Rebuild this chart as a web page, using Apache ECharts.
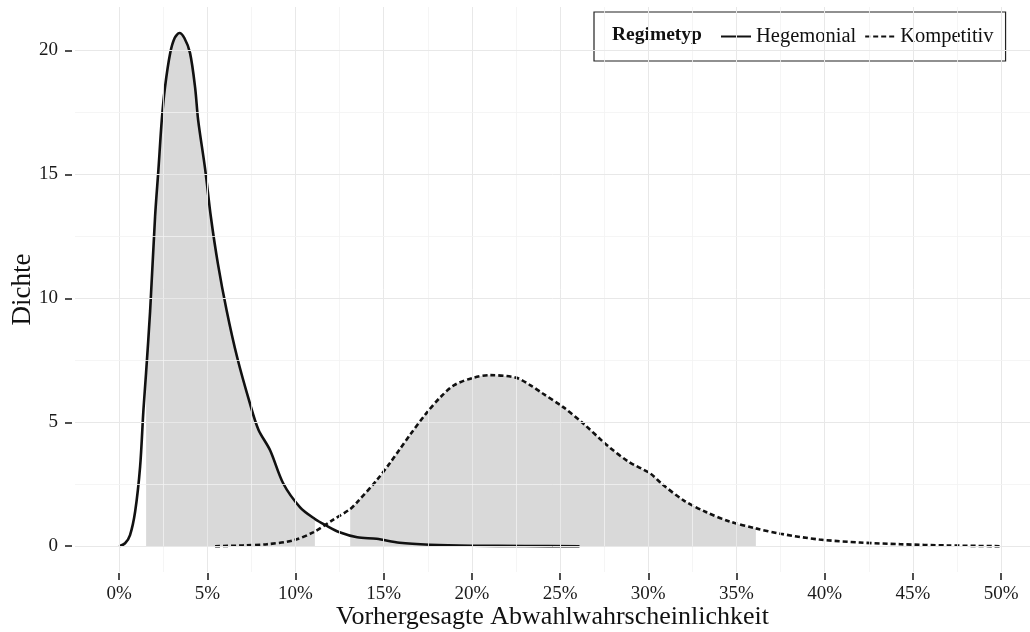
<!DOCTYPE html>
<html>
<head>
<meta charset="utf-8">
<script src="https://cdn.jsdelivr.net/npm/echarts@6/dist/echarts.min.js"></script>
<style>html,body{margin:0;padding:0;background:#fff;}#c{width:1030px;height:632px;}</style>
</head>
<body>
<div id="c"></div>
<script>
// ---- data ----
const xTicks = [0, 5, 10, 15, 20, 25, 30, 35, 40, 45, 50];
const yTicks = [0, 5, 10, 15, 20];
const xMinor = [2.5, 7.5, 12.5, 17.5, 22.5, 27.5, 32.5, 37.5, 42.5, 47.5];
const yMinor = [2.5, 7.5, 12.5, 17.5];

const hegX = [0, 0.34, 0.62, 0.91, 1.19, 1.38, 1.53, 1.76, 2.04, 2.23, 2.42, 2.6, 2.9, 3.15, 3.42, 3.7, 4.02, 4.31, 4.48, 4.88, 5.2, 5.6, 6.1, 6.7, 7.4, 7.9, 8.56, 9.3, 10.26, 11.1, 11.7, 12.5, 13.5, 14.6, 15.9, 17.6, 20, 23, 26.1];
const hegY = [0, 0.12, 0.45, 1.4, 3.2, 5.5, 7.0, 9.5, 13.3, 15.2, 17.2, 18.5, 19.9, 20.5, 20.7, 20.5, 19.9, 18.5, 17.2, 15.2, 13.3, 11.4, 9.5, 7.6, 5.8, 4.7, 3.87, 2.54, 1.57, 1.1, 0.85, 0.56, 0.36, 0.3, 0.14, 0.06, 0.02, 0.01, 0];

const kompX = [5.44, 7.0, 8.4, 9.9, 11.0, 12.1, 13.1, 13.5, 14.6, 15.4, 15.9, 16.5, 17.4, 18.2, 19.0, 20.1, 21.0, 22.5, 23.3, 24.0, 25.2, 26.3, 27.7, 28.9, 30.1, 30.8, 32.0, 33.3, 34.6, 36.1, 37.5, 39.7, 42.0, 44.3, 47.0, 50.0];
const kompY = [0, 0.03, 0.08, 0.24, 0.56, 1.05, 1.5, 1.78, 2.66, 3.4, 3.9, 4.5, 5.35, 6.0, 6.5, 6.8, 6.9, 6.8, 6.5, 6.17, 5.6, 4.96, 4.05, 3.4, 2.94, 2.5, 1.85, 1.37, 1.0, 0.72, 0.5, 0.27, 0.15, 0.08, 0.03, 0];

const hegShade = [1.53, 11.1];
const kompShade = [13.1, 36.1];

const seriesNames = ['Hegemonial', 'Kompetitiv'];
const legendTitle = 'Regimetyp';
const xTitle = 'Vorhergesagte Abwahlwahrscheinlichkeit';
const yTitle = 'Dichte';

// ---- build ----
const pairs = (xs, ys) => xs.map((x, i) => [x, ys[i]]);
const within = (pts, r) => pts.filter(p => p[0] >= r[0] && p[0] <= r[1]);
const hegPts = pairs(hegX, hegY);
const kompPts = pairs(kompX, kompY);

const FONT = 'Liberation Serif';
const majorStyle = {color: '#e8e8e8', width: 1, type: 'solid'};
const minorStyle = {color: '#f3f3f3', width: 0.8, type: 'solid'};

const gridLines = []
  .concat(xTicks.map(v => ({xAxis: v, lineStyle: majorStyle})))
  .concat(xMinor.map(v => ({xAxis: v, lineStyle: minorStyle})))
  .concat(yTicks.map(v => ({yAxis: v, lineStyle: majorStyle})))
  .concat(yMinor.map(v => ({yAxis: v, lineStyle: minorStyle})));

const SMOOTH = 0.3;

const option = {
  animation: false,
  backgroundColor: '#ffffff',
  grid: {left: 75, right: 0, top: 7, bottom: 60, containLabel: false, outerBoundsMode: 'none'},
  xAxis: {
    type: 'value', min: -2.5, max: 51.64, offset: 1,
    axisLine: {show: false, onZero: false},
    splitLine: {show: false},
    axisTick: {show: true, length: 7, customValues: xTicks, lineStyle: {color: '#222', width: 1.6}},
    axisLabel: {customValues: xTicks, formatter: v => v + '%', margin: 12,
      fontFamily: FONT, fontSize: 19, color: '#1a1a1a'},
    name: xTitle, nameLocation: 'middle', nameGap: 31, nameMoveOverlap: false,
    nameTextStyle: {fontFamily: FONT, fontSize: 26, color: '#111'}
  },
  yAxis: {
    type: 'value', min: -1.04, max: 21.75, offset: 3,
    axisLine: {show: false, onZero: false},
    splitLine: {show: false},
    axisTick: {show: true, length: 7, customValues: yTicks, lineStyle: {color: '#222', width: 1.6}},
    axisLabel: {customValues: yTicks, margin: 14,
      fontFamily: FONT, fontSize: 19, color: '#1a1a1a'},
    name: yTitle, nameLocation: 'middle', nameRotate: 90, nameGap: 36, nameMoveOverlap: false,
    nameTextStyle: {fontFamily: FONT, fontSize: 27, color: '#111'}
  },
  legend: {
    data: seriesNames.map(n => ({name: n, itemStyle: {opacity: 0}})),
    left: 594, top: 12,
    orient: 'horizontal',
    padding: [14, 12, 14, 126],
    itemWidth: 30, itemHeight: 20, itemGap: 8,
    borderColor: '#222', borderWidth: 1.2,
    textStyle: {fontFamily: FONT, fontSize: 20.5, color: '#111'}
  },
  graphic: [{
    type: 'text', left: 612, top: 25, silent: true,
    style: {text: legendTitle, fontFamily: FONT, fontSize: 19.5, fontWeight: 'bold', fill: '#111'}
  }],
  series: [
    {
      type: 'line', name: '_grid', data: [], silent: true, z: 0,
      markLine: {silent: true, symbol: 'none', label: {show: false}, animation: false, data: gridLines}
    },
    {
      type: 'line', name: '_shadeH', data: within(hegPts, hegShade), smooth: SMOOTH,
      symbol: 'none', silent: true, z: 1, lineStyle: {width: 0},
      areaStyle: {color: 'rgba(0,0,0,0.15)', opacity: 1}
    },
    {
      type: 'line', name: '_shadeK', data: within(kompPts, kompShade), smooth: SMOOTH,
      symbol: 'none', silent: true, z: 1, lineStyle: {width: 0},
      areaStyle: {color: 'rgba(0,0,0,0.15)', opacity: 1}
    },
    {
      type: 'line', name: seriesNames[0], data: hegPts, smooth: SMOOTH,
      symbol: 'none', z: 3, clip: false, color: '#111',
      lineStyle: {color: '#111', width: 2.6, type: 'solid'}
    },
    {
      type: 'line', name: seriesNames[1], data: kompPts, smooth: SMOOTH,
      symbol: 'none', z: 3, clip: false, color: '#111',
      lineStyle: {color: '#111', width: 2.6, type: [5, 3]}
    }
  ]
};

const chart = echarts.init(document.getElementById('c'), null, {renderer: 'canvas'});
chart.setOption(option);
</script>
</body>
</html>
